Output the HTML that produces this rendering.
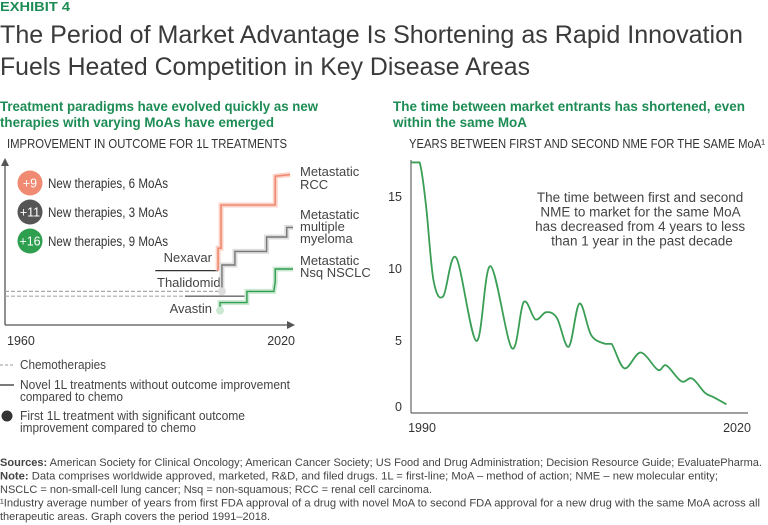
<!DOCTYPE html>
<html><head><meta charset="utf-8"><style>
html,body{margin:0;padding:0;background:#fff;}
svg{display:block;font-family:"Liberation Sans",sans-serif;}
</style></head><body>
<svg id="root" width="768" height="525" viewBox="0 0 768 525" xmlns="http://www.w3.org/2000/svg">
<text x="0" y="11" font-size="12.5" font-weight="bold" fill="#1e8c55" textLength="70" lengthAdjust="spacingAndGlyphs">EXHIBIT 4</text>
<text x="0" y="43" font-size="25" fill="#3a3a3a" textLength="743" lengthAdjust="spacingAndGlyphs">The Period of Market Advantage Is Shortening as Rapid Innovation</text>
<text x="0" y="75" font-size="25" fill="#3a3a3a" textLength="530" lengthAdjust="spacingAndGlyphs">Fuels Heated Competition in Key Disease Areas</text>
<text x="0" y="111" font-size="14" font-weight="bold" fill="#1e8c55" textLength="318" lengthAdjust="spacingAndGlyphs">Treatment paradigms have evolved quickly as new</text>
<text x="0" y="127" font-size="14" font-weight="bold" fill="#1e8c55" textLength="274" lengthAdjust="spacingAndGlyphs">therapies with varying MoAs have emerged</text>
<text x="393" y="111" font-size="14" font-weight="bold" fill="#1e8c55" textLength="352" lengthAdjust="spacingAndGlyphs">The time between market entrants has shortened, even</text>
<text x="393" y="127" font-size="14" font-weight="bold" fill="#1e8c55" textLength="134" lengthAdjust="spacingAndGlyphs">within the same MoA</text>
<text x="7" y="148" font-size="12.5" fill="#333" textLength="280" lengthAdjust="spacingAndGlyphs">IMPROVEMENT IN OUTCOME FOR 1L TREATMENTS</text>
<text x="409" y="148" font-size="12.5" fill="#333" textLength="356" lengthAdjust="spacingAndGlyphs">YEARS BETWEEN FIRST AND SECOND NME FOR THE SAME MoA¹</text>

<g id="left">
<line x1="5" y1="325" x2="5" y2="164" stroke="#555" stroke-width="1.3"/>
<polygon points="1,166 5,158 9,166" fill="#555"/>
<line x1="5" y1="325" x2="288" y2="325" stroke="#555" stroke-width="1.3"/>
<polygon points="287,321 295,325 287,329" fill="#555"/>
<text x="7" y="345" font-size="12.5" fill="#333">1960</text>
<text x="295" y="345" font-size="12.5" fill="#333" text-anchor="end">2020</text>
<circle cx="30" cy="183" r="12.5" fill="#f08a72"/>
<text x="30" y="187.5" font-size="12.5" fill="#fff" text-anchor="middle">+9</text>
<text x="48" y="188" font-size="13.5" fill="#333" textLength="120" lengthAdjust="spacingAndGlyphs">New therapies, 6 MoAs</text>
<circle cx="30" cy="212" r="12.5" fill="#555"/>
<text x="30" y="216.5" font-size="12.5" fill="#fff" text-anchor="middle">+11</text>
<text x="48" y="217" font-size="13.5" fill="#333" textLength="120" lengthAdjust="spacingAndGlyphs">New therapies, 3 MoAs</text>
<circle cx="30" cy="241" r="12.5" fill="#2e9e4f"/>
<text x="30" y="245.5" font-size="12.5" fill="#fff" text-anchor="middle">+16</text>
<text x="48" y="246" font-size="13.5" fill="#333" textLength="120" lengthAdjust="spacingAndGlyphs">New therapies, 9 MoAs</text>
<text x="300" y="176" font-size="13" fill="#444">Metastatic</text>
<text x="300" y="189" font-size="13" fill="#444">RCC</text>
<text x="300" y="219" font-size="13" fill="#444">Metastatic</text>
<text x="300" y="231" font-size="13" fill="#444">multiple</text>
<text x="300" y="243" font-size="13" fill="#444">myeloma</text>
<text x="300" y="265" font-size="13" fill="#444">Metastatic</text>
<text x="300" y="277" font-size="13" fill="#444">Nsq NSCLC</text>
<text x="212" y="262" font-size="13" fill="#444" text-anchor="end">Nexavar</text>
<text x="157" y="287" font-size="13" fill="#444">Thalidomid</text>
<text x="212" y="313" font-size="13" fill="#444" text-anchor="end">Avastin</text>
</g>

<g id="right">
<line x1="411" y1="413" x2="748" y2="413" stroke="#666" stroke-width="1.2"/>
<line x1="411" y1="160" x2="411" y2="413" stroke="#666" stroke-width="1.2"/>
<text x="402" y="411" font-size="12.5" fill="#333" text-anchor="end">0</text>
<text x="422" y="432" font-size="12.5" fill="#333" text-anchor="middle">1990</text>
<text x="737" y="432" font-size="12.5" fill="#333" text-anchor="middle">2020</text>
<text font-size="13.5" fill="#444" text-anchor="middle">
<tspan x="642" y="202">The time between first and second</tspan>
<tspan x="642" y="216.5">NME to market for the same MoA</tspan>
<tspan x="642" y="231">has decreased from 4 years to less</tspan>
<tspan x="642" y="245.5">than 1 year in the past decade</tspan>
</text>
</g>

<line x1="0" y1="365" x2="14" y2="365" stroke="#999" stroke-dasharray="3,2"/>
<text x="20" y="369" font-size="12.5" fill="#444" textLength="86" lengthAdjust="spacingAndGlyphs">Chemotherapies</text>
<line x1="0" y1="385" x2="14" y2="385" stroke="#333" stroke-width="1.3"/>
<text x="20" y="389" font-size="12.5" fill="#444" textLength="270" lengthAdjust="spacingAndGlyphs">Novel 1L treatments without outcome improvement</text>
<text x="20" y="401" font-size="12.5" fill="#444" textLength="103" lengthAdjust="spacingAndGlyphs">compared to chemo</text>
<circle cx="7" cy="416" r="5.5" fill="#333"/>
<text x="20" y="420" font-size="12.5" fill="#444" textLength="225" lengthAdjust="spacingAndGlyphs">First 1L treatment with significant outcome</text>
<text x="20" y="432" font-size="12.5" fill="#444" textLength="176" lengthAdjust="spacingAndGlyphs">improvement compared to chemo</text>

<g font-size="11" fill="#444">
<text x="0" y="466" textLength="762" lengthAdjust="spacingAndGlyphs"><tspan font-weight="bold">Sources:</tspan> American Society for Clinical Oncology; American Cancer Society; US Food and Drug Administration; Decision Resource Guide; EvaluatePharma.</text>
<text x="0" y="479.5" textLength="718" lengthAdjust="spacingAndGlyphs"><tspan font-weight="bold">Note:</tspan> Data comprises worldwide approved, marketed, R&amp;D, and filed drugs. 1L = first-line; MoA – method of action; NME – new molecular entity;</text>
<text x="0" y="493" textLength="432" lengthAdjust="spacingAndGlyphs">NSCLC = non-small-cell lung cancer; Nsq = non-squamous; RCC = renal cell carcinoma.</text>
<text x="0" y="506.5" textLength="760" lengthAdjust="spacingAndGlyphs">¹Industry average number of years from first FDA approval of a drug with novel MoA to second FDA approval for a new drug with the same MoA across all</text>
<text x="0" y="520" textLength="270" lengthAdjust="spacingAndGlyphs">therapeutic areas. Graph covers the period 1991–2018.</text>
</g>
</svg>
<script>
const rccYears = [2004.4, 2004.4, 2005.0, 2005.0, 2016.3, 2016.3, 2019.4];
const rccLevels = [34, 48, 48, 75, 75, 93, 94];
const mmYears = [2005.2, 2005.2, 2007.9, 2007.9, 2014.5, 2014.5, 2018.7, 2018.7, 2020];
const mmLevels = [21, 37.5, 37.5, 46, 46, 55, 55, 61, 61];
const nsclcYears = [2004.8, 2004.8, 2010.4, 2010.4, 2016.0, 2016.3, 2016.3, 2020];
const nsclcLevels = [9, 14, 14, 21, 21, 27, 35, 35];
const nexavarYears = [1991.3, 2004.4];
const nexavarLevels = [34, 34];
const thalYears = [1997.5, 2010.4];
const thalLevels = [18, 18];
const chemoAYears = [1960, 2005.2];
const chemoALevels = [21, 21];
const chemoBYears = [1960, 1997.5];
const chemoBLevels = [18, 18];
const gapYears = [1990, 1990.8, 1991.4, 1992.1, 1993.0, 1994.2, 1996.1, 1997.4, 1999.4, 2000.5, 2001.6, 2002.6, 2003.6, 2004.7, 2005.7, 2006.8, 2008.1, 2008.7, 2009.9, 2011.4, 2013.0, 2013.8, 2015.2, 2016.2, 2017.4, 2018.2, 2019.4];
const gapValues = [17.4, 17.4, 14.4, 9.2, 8.1, 10.8, 5.0, 10.2, 4.5, 7.7, 6.5, 7.0, 6.6, 4.6, 7.6, 5.4, 4.8, 4.8, 3.1, 4.2, 3.0, 3.3, 2.2, 2.4, 1.4, 1.1, 0.6];
const yTicks = [5, 10, 15];

const NS = 'http://www.w3.org/2000/svg';
const lx = y => 5 + (y - 1960) * 4.8;
const ly = v => 325 - v * 1.6;
const rx = y => 411 + (y - 1990) * 10.73;
const ry = v => 413 - v * 14.4;
const left = document.getElementById('left');
const right = document.getElementById('right');

function poly(parent, xs, ys, fx, fy, stroke, w, dash, name) {
  const p = document.createElementNS(NS, 'polyline');
  p.setAttribute('points', xs.map((x, i) => fx(x) + ',' + fy(ys[i])).join(' '));
  p.setAttribute('fill', 'none');
  p.setAttribute('stroke', stroke);
  p.setAttribute('stroke-width', w);
  if (dash) p.setAttribute('stroke-dasharray', dash);
  
  
  parent.appendChild(p);
  return p;
}
poly(left, chemoAYears, chemoALevels, lx, ly, '#aaa', 1.2, '4,2', 'chemo-line-myeloma');
poly(left, chemoBYears, chemoBLevels, lx, ly, '#aaa', 1.2, '4,2', 'chemo-line-nsclc');
poly(left, nexavarYears, nexavarLevels, lx, ly, '#333', 1.3, null, 'nexavar-line');
poly(left, thalYears, thalLevels, lx, ly, '#666', 1.3, null, 'thalidomid-line');
poly(left, rccYears, rccLevels, lx, ly, '#fbd3c8', 5, null, 'rcc-halo');
poly(left, rccYears, rccLevels, lx, ly, '#f08a72', 1.6, null, 'rcc-steps');
poly(left, mmYears, mmLevels, lx, ly, '#ddd', 5, null, 'myeloma-halo');
poly(left, mmYears, mmLevels, lx, ly, '#777', 1.4, null, 'myeloma-steps');
poly(left, nsclcYears, nsclcLevels, lx, ly, '#cce8d3', 5, null, 'nsclc-halo');
poly(left, nsclcYears, nsclcLevels, lx, ly, '#2e9e4f', 1.4, null, 'nsclc-steps');
[[mmYears, mmLevels, '#ddd', 'myeloma-start-dot'], [nsclcYears, nsclcLevels, '#cce8d3', 'nsclc-start-dot']].forEach(d => {
  const c = document.createElementNS(NS, 'circle');
  c.setAttribute('cx', lx(d[0][0])); c.setAttribute('cy', ly(d[1][0]));
  c.setAttribute('r', 4); c.setAttribute('fill', d[2]);
  
  
  left.appendChild(c);
});

yTicks.forEach(t => {
  const tx = document.createElementNS(NS, 'text');
  tx.setAttribute('x', 402); tx.setAttribute('y', ry(t) + 4);
  tx.setAttribute('font-size', '12.5'); tx.setAttribute('fill', '#333');
  tx.setAttribute('text-anchor', 'end');
  tx.textContent = t;
  
  
  right.appendChild(tx);
});

const pts = gapYears.map((y, i) => [rx(y), ry(gapValues[i])]);
let d = 'M' + pts[0][0] + ',' + pts[0][1];
for (let i = 0; i < pts.length - 1; i++) {
  const p0 = pts[Math.max(0, i - 1)], p1 = pts[i], p2 = pts[i + 1], p3 = pts[Math.min(pts.length - 1, i + 2)];
  let c1 = [p1[0] + (p2[0] - p0[0]) / 6, p1[1] + (p2[1] - p0[1]) / 6];
  let c2 = [p2[0] - (p3[0] - p1[0]) / 6, p2[1] - (p3[1] - p1[1]) / 6];
  if (p1[1] === p2[1]) { c1 = [c1[0], p1[1]]; c2 = [c2[0], p2[1]]; }
  d += ' C' + c1.join(',') + ' ' + c2.join(',') + ' ' + p2.join(',');
}
const line = document.createElementNS(NS, 'path');
line.setAttribute('d', d);
line.setAttribute('fill', 'none');
line.setAttribute('stroke', '#3a9e55');
line.setAttribute('stroke-width', '1.8');


right.appendChild(line);
</script>
</body></html>
